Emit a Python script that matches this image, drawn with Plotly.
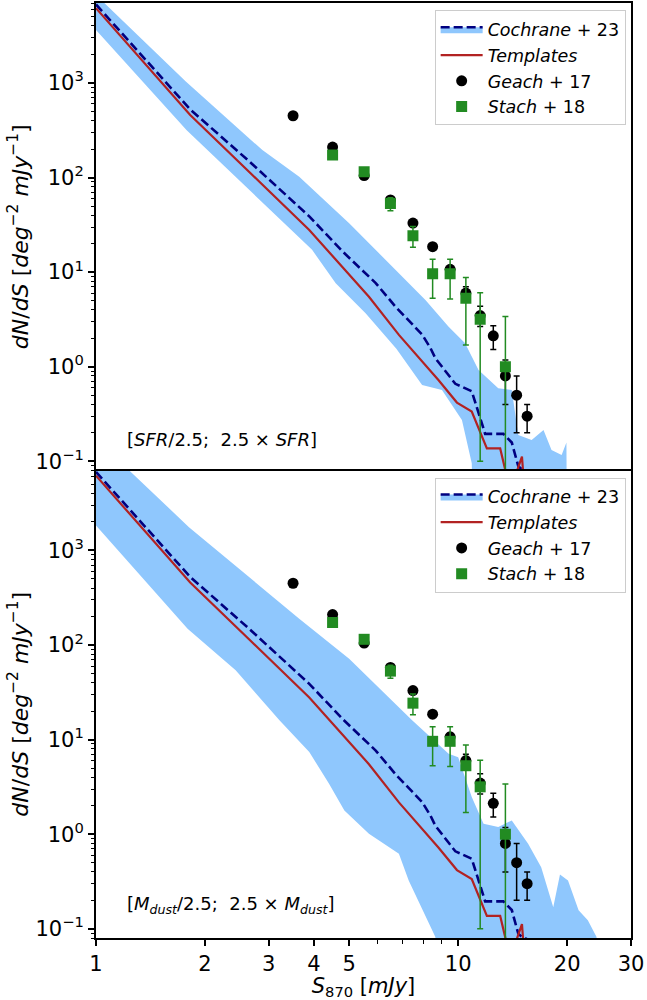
import numpy as np
import plotly.graph_objects as go
from plotly.subplots import make_subplots

# ---------------- data ----------------
# Observed number counts (bin centres in mJy)
geach_s = [3.5, 4.5, 5.5, 6.5, 7.5, 8.5, 9.5, 10.5, 11.5, 12.5, 13.5, 14.5, 15.5]
geach_n = [450, 210, 105, 58, 33, 18.6, 10.7, 6.0, 3.47, 2.12, 0.80, 0.50, 0.30]
geach_up = [15, 8, 5, 3, 2, 1.2, 1.0, 1.0, 0.9, 0.6, 0.38, 0.30, 0.10]
geach_lo = [15, 8, 5, 3, 2, 1.2, 1.0, 1.0, 0.8, 0.6, 0.40, 0.30, 0.10]

stach_s = [4.5, 5.5, 6.5, 7.5, 8.5, 9.5, 10.5, 11.5, 13.5]
stach_n = [173, 115, 53, 24.3, 9.6, 9.6, 5.3, 3.17, 1.0]
stach_up = [12, 8, 8, 6, 4.1, 4.1, 3.45, 2.9, 2.4]
stach_lo = [12, 8, 8.4, 6, 4.3, 4.4, 3.6, 3.07, 0.999]

# Cochrane+23 median counts
coch_s = [1.0, 1.82, 2.65, 3.88, 4.79, 5.92, 6.71, 7.95, 8.38, 8.65, 9.82,
          10.9, 11.87, 13.33, 14.06, 14.65, 15.0, 16.5]
coch_n = [6760, 525, 148, 38.9, 16.6, 7.66, 4.32, 2.19, 1.58, 1.23, 0.66,
          0.55, 0.195, 0.195, 0.158, 0.089, 0.082, 0.07]

# Template-based counts
tmpl_s = [1.0, 1.82, 3.88, 5.67, 6.86, 8.83, 9.92, 10.9, 12.0, 13.06, 13.5,
          13.6, 14.45, 14.55, 15.0, 15.1, 15.2]
tmpl_n = [6170, 459, 27.9, 5.5, 2.17, 0.72, 0.418, 0.336, 0.137, 0.137, 0.08,
          0.001, 0.001, 0.08, 0.112, 0.08, 0.001]

# Cochrane+23 range, SFR scaled by 1/2.5 .. 2.5
sfr_up_s = [1.0, 1.77, 2.88, 3.64, 5.0, 5.92, 7.15, 8.12, 9.41, 10.45, 11.38,
            12.9, 14.06, 14.65, 15.95, 17.2, 18.1, 19.3, 19.9, 20.05]
sfr_up_n = [8510, 1033, 195, 102, 32.9, 17.2, 8.28, 5.08, 2.65, 1.77, 0.925,
            0.593, 0.569, 0.19, 0.168, 0.215, 0.132, 0.117, 0.158, 0.001]
sfr_lo_s = [1.0, 1.78, 3.95, 4.59, 5.55, 6.75, 7.95, 9.02, 10.24, 10.9, 11.2]
sfr_lo_n = [3630, 316, 17.2, 7.64, 3.67, 1.55, 0.643, 0.569, 0.274, 0.0955, 0.001]

# Cochrane+23 range, dust mass scaled by 1/2.5 .. 2.5
md_up_s = [1.0, 1.806, 3.64, 5.0, 7.46, 9.41, 10.0, 10.9, 11.75, 12.9, 14.06,
           15.6, 16.95, 18.3, 19.1, 20.1, 21.5, 22.8, 24.1, 24.6]
md_up_n = [15100, 1762, 190, 71.6, 16.0, 7.1, 6.53, 2.47, 1.29, 1.19, 1.40,
           0.794, 0.449, 0.169, 0.376, 0.325, 0.157, 0.123, 0.082, 0.001]
md_lo_s = [1.0, 1.79, 2.43, 3.21, 3.88, 4.40, 4.85, 5.67, 6.86, 7.3, 8.65, 8.9]
md_lo_n = [1837, 149, 54, 16, 7.4, 3.42, 1.78, 1.01, 0.622, 0.325, 0.082, 0.001]

x_ticks = [1, 2, 3, 4, 5, 10, 20, 30]
x_minor = [6, 7, 8, 9]
y_ticks = [0.1, 1, 10, 100, 1000]
y_ticktext = ["10<sup>\u22121</sup>", "10<sup>0</sup>", "10<sup>1</sup>",
              "10<sup>2</sup>", "10<sup>3</sup>"]
y_minor = [k * 10.0 ** e for e in range(-2, 4) for k in range(2, 10)]

panel_notes = [
    "[<i>SFR</i>/2.5;  2.5 \u00d7 <i>SFR</i>]",
    "[<i>M<sub>dust</sub></i>/2.5;  2.5 \u00d7 <i>M<sub>dust</sub></i>]",
]

# ---------------- styles ----------------
FONT = "DejaVu Sans"
BAND = "rgb(143,199,253)"
NAVY = "#000080"
RED = "#b22222"
GREEN = "#228b22"

fig = make_subplots(rows=2, cols=1, shared_xaxes=True, vertical_spacing=0)

bands = [(sfr_up_s, sfr_up_n, sfr_lo_s, sfr_lo_n),
         (md_up_s, md_up_n, md_lo_s, md_lo_n)]

for i, (us, un, ls, ln) in enumerate(bands):
    row = i + 1
    leg = "legend" if i == 0 else "legend2"
    # shaded range
    fig.add_trace(go.Scatter(
        x=list(us) + list(ls[::-1]), y=list(un) + list(ln[::-1]),
        mode="lines", fill="toself", fillcolor=BAND, line=dict(width=0),
        hoverinfo="skip", showlegend=False, legend=leg), row=row, col=1)
    # legend entry for the Cochrane+23 curve (band + dashed median)
    fig.add_trace(go.Scatter(
        x=[None], y=[None], mode="lines", fill="toself", fillcolor=BAND,
        line=dict(color=NAVY, width=2.5, dash="9px,4px"),
        name="<i>Cochrane</i> + 23", legend=leg), row=row, col=1)
    fig.add_trace(go.Scatter(
        x=coch_s, y=coch_n, mode="lines",
        line=dict(color=NAVY, width=2.6, dash="9px,4px"),
        showlegend=False, legend=leg), row=row, col=1)
    fig.add_trace(go.Scatter(
        x=tmpl_s, y=tmpl_n, mode="lines",
        line=dict(color=RED, width=2.2),
        name="<i>Templates</i>", legend=leg), row=row, col=1)
    fig.add_trace(go.Scatter(
        x=geach_s, y=geach_n, mode="markers",
        marker=dict(symbol="circle", size=11, color="black"),
        error_y=dict(type="data", array=geach_up, arrayminus=geach_lo,
                     color="black", thickness=1.5, width=3),
        name="<i>Geach</i> + 17", legend=leg), row=row, col=1)
    fig.add_trace(go.Scatter(
        x=stach_s, y=stach_n, mode="markers",
        marker=dict(symbol="square", size=11, color=GREEN),
        error_y=dict(type="data", array=stach_up, arrayminus=stach_lo,
                     color=GREEN, thickness=1.5, width=3),
        name="<i>Stach</i> + 18", legend=leg), row=row, col=1)

    fig.add_annotation(
        x=np.log10(1.2), y=np.log10(0.172 if i == 0 else 0.177),
        xref="x" if i == 0 else "x2", yref="y" if i == 0 else "y2",
        text=panel_notes[i], showarrow=False, xanchor="left", yanchor="middle",
        font=dict(family=FONT, size=18, color="black"))

axis_common = dict(showline=True, linecolor="black", linewidth=2, mirror=True,
                   showgrid=False, zeroline=False, ticks="outside",
                   tickcolor="black", tickwidth=1.5, ticklen=6,
                   tickfont=dict(family=FONT, size=21, color="black"))

ylabel = ("<i>dN</i>/<i>dS</i> [<i>deg</i><sup>\u22122</sup> "
          "<i>mJy</i><sup>\u22121</sup>]")

for r in (1, 2):
    fig.update_yaxes(
        type="log", range=[np.log10(0.08), np.log10(7000)],
        tickvals=y_ticks, ticktext=y_ticktext,
        minor=dict(tickvals=y_minor, ticks="outside", ticklen=3.5,
                   tickwidth=1, tickcolor="black", showgrid=False),
        title=dict(text=ylabel, font=dict(family=FONT, size=22, color="black"),
                   standoff=1),
        row=r, col=1, **axis_common)

fig.update_xaxes(
    type="log", range=[0, np.log10(30)],
    tickvals=x_ticks, ticktext=[str(v) for v in x_ticks],
    minor=dict(tickvals=x_minor, ticks="outside", ticklen=3.5,
               tickwidth=1, tickcolor="black", showgrid=False),
    **axis_common)
# upper panel: frame line only along its top edge (the shared edge is drawn
# by the lower panel)
fig.update_xaxes(ticks="", showticklabels=False, minor=dict(ticks=""),
                 mirror=False, side="top", row=1, col=1)
fig.update_xaxes(
    title=dict(text="<i>S</i><sub>870</sub> [<i>mJy</i>]",
               font=dict(family=FONT, size=21, color="black"), standoff=0),
    row=2, col=1)

legend_common = dict(
    bgcolor="white", bordercolor="#cccccc", borderwidth=1,
    font=dict(family=FONT, size=17.5, color="black"),
    xanchor="right", yanchor="top", itemwidth=42,
    tracegroupgap=0)

fig.update_layout(
    width=647, height=1000,
    margin=dict(l=96, r=14, t=3, b=62),
    paper_bgcolor="white", plot_bgcolor="white",
    font=dict(family=FONT, color="black"),
    legend=dict(x=0.99, y=0.992, **legend_common),
    legend2=dict(x=0.99, y=0.4925, **legend_common),
)

fig.write_html("out.html")
